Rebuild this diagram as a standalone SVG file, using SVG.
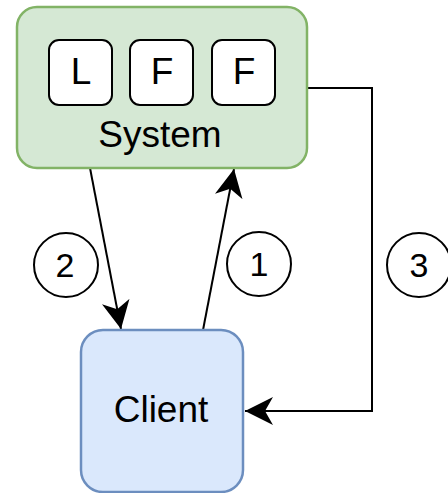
<svg xmlns="http://www.w3.org/2000/svg" width="448" height="493" viewBox="0 0 448 493">
<defs>
<style>
.lbl{font-family:"Liberation Sans",Arial,sans-serif;fill:#000;text-anchor:middle}
.big{font-size:37px}
.num{font-size:34px}
.key{fill:#fff;stroke:#000;stroke-width:2}
.edge{fill:none;stroke:#000;stroke-width:2;marker-end:url(#arr)}
.badge{fill:#fff;stroke:#000;stroke-width:2}
</style>
<marker id="arr" markerUnits="userSpaceOnUse" markerWidth="28" markerHeight="28" viewBox="0 0 28 28" refX="28" refY="14" orient="auto">
<path d="M0,0 L28,14 L0,28 L8,14 Z" fill="#000"/>
</marker>
</defs>
<rect width="448" height="493" fill="#fff"/>
<g id="connectors">
<path class="edge" d="M90,168 L121,329"/>
<path class="edge" d="M203,330 L234,169"/>
<path class="edge" d="M307,88 L372,88 L372,411 L245,411"/>
</g>
<g id="system">
<rect x="17" y="7" width="290" height="161" rx="20" fill="#d5e8d4" stroke="#82b366" stroke-width="2.5"/>
<text class="lbl big" x="160" y="147">System</text>
</g>
<g id="key-l">
<rect class="key" x="49" y="40" width="63" height="65" rx="10"/>
<text class="lbl big" x="81" y="84">L</text>
</g>
<g id="key-f1">
<rect class="key" x="130" y="40" width="63" height="65" rx="10"/>
<text class="lbl big" x="162" y="84">F</text>
</g>
<g id="key-f2">
<rect class="key" x="212" y="40" width="63" height="65" rx="10"/>
<text class="lbl big" x="244" y="84">F</text>
</g>
<g id="client">
<rect x="81" y="330" width="162" height="162" rx="22" fill="#dae8fc" stroke="#6c8ebf" stroke-width="2.5"/>
<text class="lbl big" x="161" y="422">Client</text>
</g>
<g id="step-2">
<circle class="badge" cx="66" cy="265" r="32"/>
<text class="lbl num" x="65" y="277">2</text>
</g>
<g id="step-1">
<circle class="badge" cx="259" cy="264" r="32"/>
<text class="lbl num" x="259" y="276">1</text>
</g>
<g id="step-3">
<circle class="badge" cx="419" cy="265" r="32"/>
<text class="lbl num" x="419" y="277">3</text>
</g>
</svg>
